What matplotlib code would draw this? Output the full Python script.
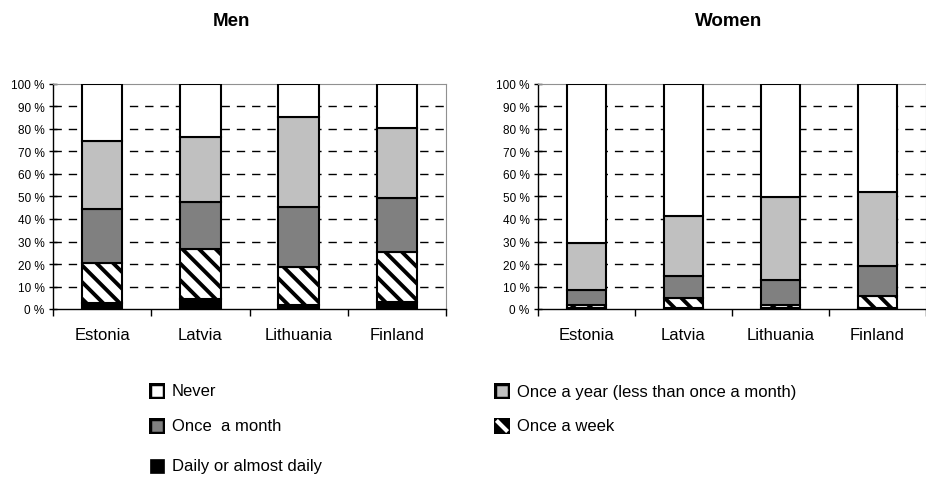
import matplotlib
matplotlib.use("Agg")
import matplotlib.pyplot as plt
import numpy as np

plt.rcParams['font.family'] = ['Liberation Sans', 'DejaVu Sans']
plt.rcParams['hatch.linewidth'] = 2.8

countries = ["Estonia", "Latvia", "Lithuania", "Finland"]
series_names = ["Daily or almost daily", "Once a week", "Once  a month",
                "Once a year (less than once a month)", "Never"]

men_daily = [2.5, 4.5, 2.0, 3.0]
men_week = [18.0, 22.0, 16.5, 22.5]
men_month = [24.0, 21.0, 27.0, 24.0]
men_year = [30.0, 29.0, 40.0, 31.0]
men_never = [25.5, 23.5, 14.5, 19.5]

women_daily = [0.5, 0.5, 0.5, 0.5]
women_week = [1.5, 4.5, 1.5, 5.5]
women_month = [6.5, 9.5, 11.0, 13.0]
women_year = [21.0, 27.0, 37.0, 33.0]
women_never = [70.5, 58.5, 50.0, 48.0]

styles = [
    dict(facecolor="black", hatch=None),
    dict(facecolor="white", hatch="\\\\"),
    dict(facecolor="#808080", hatch=None),
    dict(facecolor="#c0c0c0", hatch=None),
    dict(facecolor="white", hatch=None),
]

fig = plt.figure(figsize=(9.26, 4.81), dpi=100)
W, H = 926, 481
ax_men = fig.add_axes([53 / W, 1 - 310 / H, 393 / W, 225 / H])
ax_wom = fig.add_axes([538 / W, 1 - 310 / H, 388 / W, 225 / H])

def draw(ax, data):
    x = np.arange(len(countries))
    bottom = np.zeros(len(countries))
    for vals, st in zip(data, styles):
        ax.bar(x, vals, bottom=bottom, width=0.41, facecolor=st["facecolor"],
               edgecolor="black", linewidth=1.5, hatch=st["hatch"], zorder=3)
        bottom += np.array(vals)
    ax.set_xlim(-0.5, len(countries) - 0.5)
    ax.set_ylim(0, 100)
    yt = np.arange(0, 101, 10)
    ax.set_yticks(yt)
    ax.set_yticklabels([f"{v} %" for v in yt], fontsize=8.5)
    ax.set_xticks(x)
    ax.set_xticklabels(countries, fontsize=12)
    ax.tick_params(axis='x', which='major', length=0, pad=13)
    ax.set_xticks(np.arange(-0.5, len(countries)), minor=True)
    ax.tick_params(axis='x', which='minor', length=5, width=1, direction='out')
    ax.tick_params(axis='y', length=6, width=1, direction='inout', pad=3)
    for v in yt[1:-1]:
        ax.axhline(v, color="black", linestyle=(0, (6, 5)), linewidth=1.0, zorder=1)
    for s in ('left', 'bottom'):
        ax.spines[s].set_color("black")
        ax.spines[s].set_linewidth(1.0)
    for s in ('top', 'right'):
        ax.spines[s].set_color("#909090")
        ax.spines[s].set_linewidth(0.8)

draw(ax_men, [men_daily, men_week, men_month, men_year, men_never])
draw(ax_wom, [women_daily, women_week, women_month, women_year, women_never])

fig.text(231 / W, 1 - 22 / H, "Men", fontsize=13.5, fontweight='bold',
         ha='center', va='center')
fig.text(729 / W, 1 - 22 / H, "Women", fontsize=13.5, fontweight='bold',
         ha='center', va='center')

legend_items = [
    (157, 392, 4, "Never"),
    (157, 427, 2, "Once  a month"),
    (157, 467, 0, "Daily or almost daily"),
    (502, 392, 3, "Once a year (less than once a month)"),
    (502, 427, 1, "Once a week"),
]
for px, py, idx, label in legend_items:
    st = styles[idx]
    s = 16
    box = fig.add_axes([(px - s / 2) / W, 1 - (py + s / 2) / H, s / W, s / H])
    box.set_xlim(0, 1)
    box.set_ylim(0, 1)
    box.axis('off')
    if idx == 1:
        box.add_patch(plt.Rectangle((0, 0), 1, 1, facecolor="black",
                                    edgecolor="black", linewidth=0))
        box.plot([0.15, 0.85], [0.85, 0.15], color="white", linewidth=3,
                 solid_capstyle='butt')
    else:
        box.add_patch(plt.Rectangle((0.08, 0.08), 0.84, 0.84,
                                    facecolor=st["facecolor"], edgecolor="black",
                                    linewidth=2.5 if idx != 0 else 0.5))
    fig.text((px + 15) / W, 1 - py / H, label, fontsize=12, va='center', ha='left')

fig.savefig("out.png", dpi=100)
